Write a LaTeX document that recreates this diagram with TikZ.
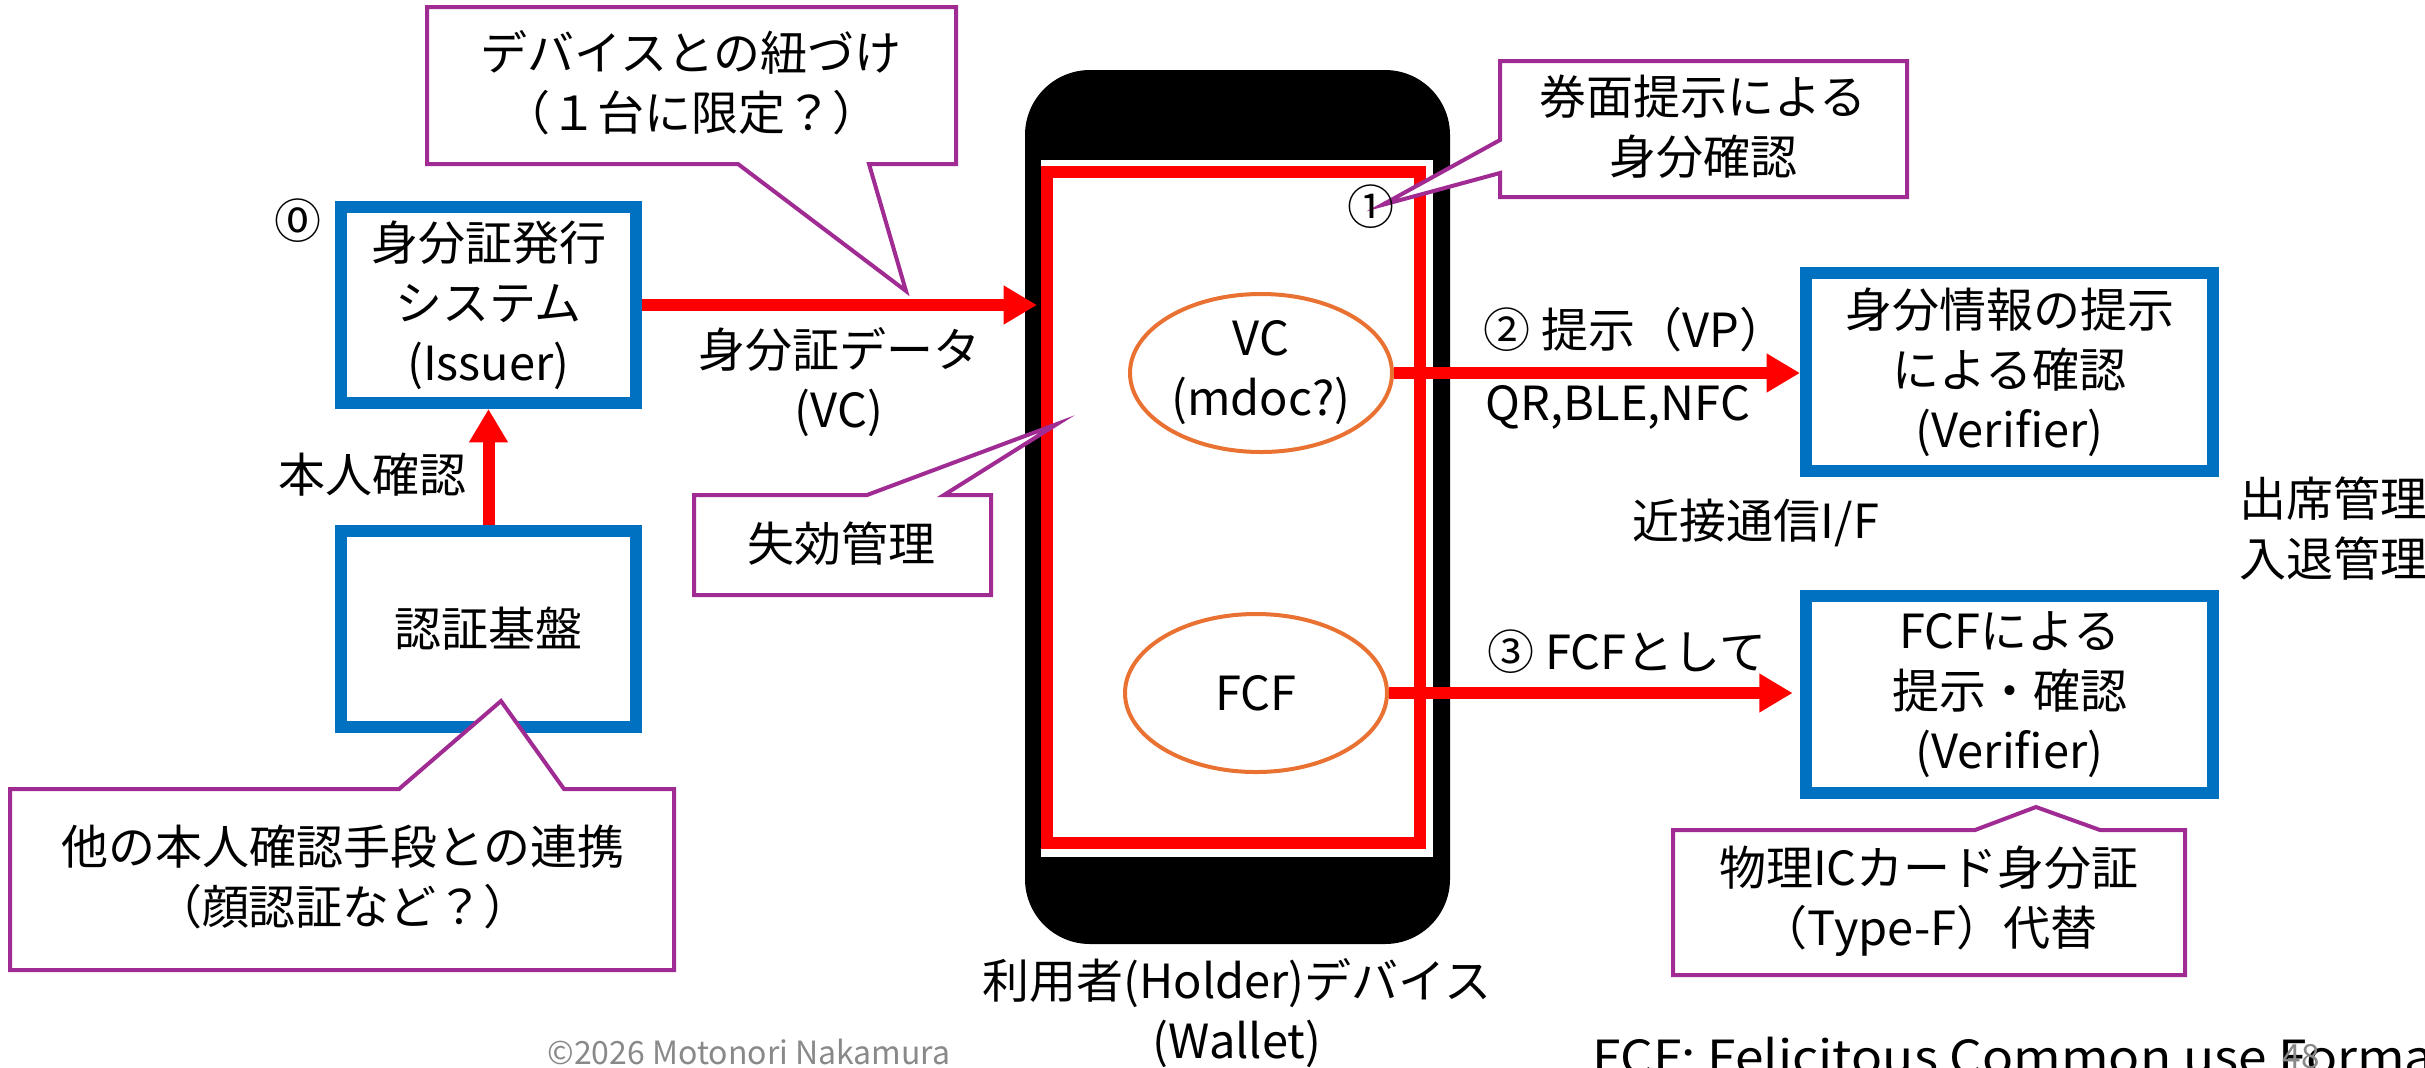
\documentclass[tikz,border=0pt]{standalone}
\usepackage{fontspec}
\setmainfont{Noto Sans CJK JP}
\usetikzlibrary{arrows.meta,shapes.geometric}
\definecolor{myblue}{HTML}{0070C0}
\definecolor{myred}{HTML}{FF0000}
\definecolor{mypurple}{HTML}{A02B93}
\definecolor{myorange}{HTML}{E97132}
\definecolor{mygray}{HTML}{898989}
\newcommand\jfs{\fontsize{14.1pt}{18pt}\selectfont}
\begin{document}
\begin{tikzpicture}[x=0.3pt,y=-0.3pt,
  txt/.style={font=\jfs, align=center, inner sep=0pt},
  bluebox/.style={draw=myblue, line width=3.6pt, fill=white, inner sep=0pt, align=center, font=\jfs},
  ell/.style={ellipse, draw=myorange, line width=1.2pt, inner sep=0pt, align=center, font=\jfs, minimum width=78.6pt, minimum height=47.4pt},
  callout/.style={draw=mypurple, line width=1.2pt, fill=white},
  redarrow/.style={draw=myred, line width=3.6pt, -{Triangle[length=10pt,width=11pt]}},
  num/.style={font=\jfs, inner sep=0pt}
]
\useasboundingbox (0,0) rectangle (2425,1067);
\clip (0,0) rectangle (2425,1067);

% phone
\node[fill=black, rounded corners=19.5pt, minimum width=127.5pt, minimum height=262.2pt, inner sep=0pt] (phone) at (1237.5,507) {};
\node[fill=white, minimum width=117.6pt, minimum height=209.1pt, inner sep=0pt] (scr) at (1237,508.5) {};
\node[draw=myred, line width=3.6pt, minimum width=111.9pt, minimum height=201.3pt, inner sep=0pt] (wal) at (1233.5,507.5) {};

% boxes
\node[bluebox, minimum width=88.5pt, minimum height=58.8pt] (issuer) at (488.5,305) {身分証発行\\システム\\(Issuer)};
\node[bluebox, minimum width=88.5pt, minimum height=58.8pt] (auth) at (488.5,629) {認証基盤};
\node[bluebox, minimum width=122.1pt, minimum height=59.4pt] (ver1) at (2009.5,372) {身分情報の提示\\による確認\\(Verifier)};
\node[bluebox, minimum width=122.1pt, minimum height=59.1pt] (ver2) at (2009.5,694.5) {FCFによる\\提示・確認\\(Verifier)};

% ellipses
\node[ell] (vc) at (1261,373) {VC\\(mdoc?)};
\node[ell] (fcf) at (1256,693) {FCF};

% arrows
\draw[redarrow, shorten >=1.2pt] (issuer.east) -- (issuer.east -| wal.west);
\draw[redarrow] (auth.north) -- (issuer.south);
\draw[redarrow] (vc.east) -- (vc.east -| ver1.west);
\draw[redarrow, shorten >=2.2pt] (fcf.east) -- (fcf.east -| ver2.west);

% callouts
\draw[callout] (427,7) -- (956,7) -- (956,164) -- (869,164) -- (906,291) -- (738,164) -- (427,164) -- cycle;
\draw[callout] (1500,61) -- (1907,61) -- (1907,197) -- (1500,197) -- (1500,173) -- (1382,205) -- (1500,140) -- cycle;
\draw[callout] (694,495) -- (867,495) -- (1057,424) -- (944,495) -- (991,495) -- (991,595) -- (694,595) -- cycle;
\draw[callout] (10,789) -- (399,789) -- (501,701) -- (564,789) -- (674,789) -- (674,970) -- (10,970) -- cycle;
\draw[callout] (1673,830) -- (1975,830) -- (2036,807) -- (2100,830) -- (2185,830) -- (2185,975) -- (1673,975) -- cycle;

\node[txt] (calA) at (691,83) {デバイスとの紐づけ\\（１台に限定？）};
\node[txt] (calB) at (1703,127) {券面提示による\\身分確認};
\node[txt] (calC) at (841,544) {失効管理};
\node[txt] (calD) at (343,877) {他の本人確認手段との連携\\（顔認証など？）};
\node[txt] (calE) at (1929,901) {物理ICカード身分証\\（Type-F）代替};

% numbers
\node[num] (n0) at (298,221) {⓪};
\node[num] (n1) at (1371,207) {①};

% labels
\node[txt] (lvc) at (839,382) {身分証データ\\(VC)};
\node[txt] (lhon) at (372,475) {本人確認};
\node[txt] (l2) at (1635,330) {② 提示（VP）};
\node[txt] (lqr) at (1618,407) {QR,BLE,NFC};
\node[txt] (lnf) at (1756,523) {近接通信I/F};
\node[txt, align=left, anchor=west] (lsk) at (2239,529) {出席管理\\入退管理};
\node[txt] (l3) at (1627,652) {③ FCFとして};
\node[txt] (lhold) at (1237,1013) {利用者(Holder)デバイス\\(Wallet)};
\node[inner sep=0pt, font=\fontsize{9.6pt}{12pt}\selectfont, text=mygray] (copy) at (749,1052) {©2026 Motonori Nakamura};
\node[inner sep=0pt, font=\jfs, anchor=base west] (fcfdef) at (1592,1074) {\scalebox{1.095}[1]{FCF: Felicitous Common use Format}};
\node[inner sep=0pt, font=\fontsize{10pt}{12pt}\selectfont, text=mygray] (page) at (2301,1057) {48};
\end{tikzpicture}
\end{document}
